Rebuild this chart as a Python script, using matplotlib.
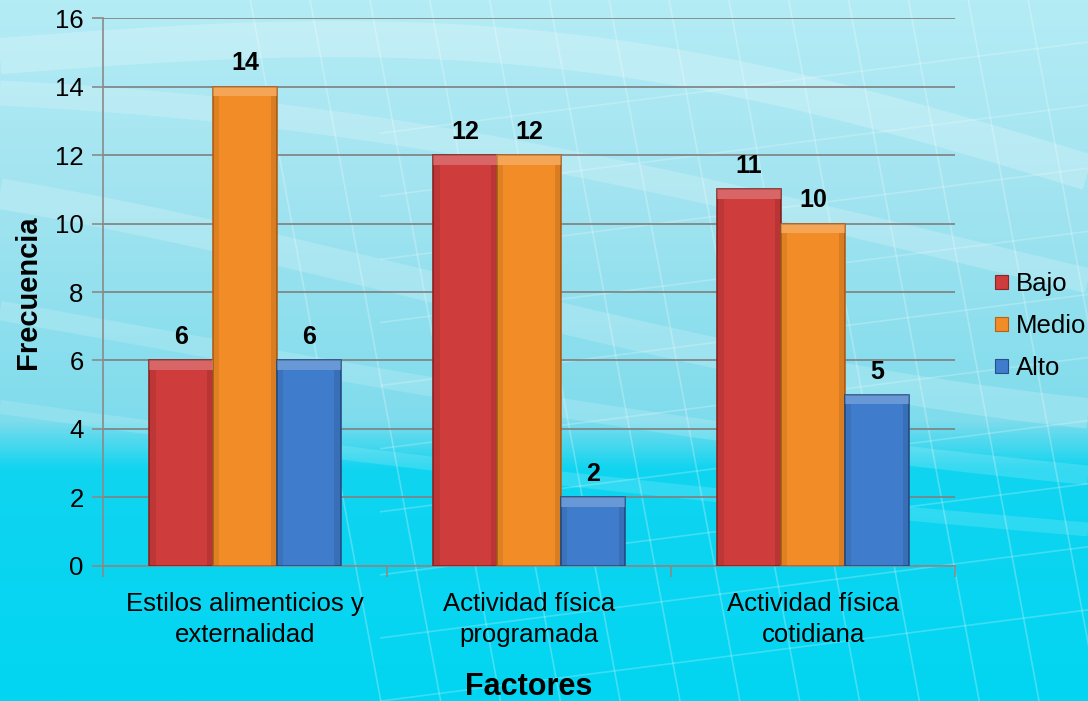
import numpy as np
import matplotlib
matplotlib.use("Agg")
import matplotlib.pyplot as plt
from matplotlib.patches import Rectangle
from matplotlib.colors import LinearSegmentedColormap

plt.rcParams['font.family'] = ['Liberation Sans', 'DejaVu Sans']

categories = ["Estilos alimenticios y\nexternalidad",
              "Actividad física\nprogramada",
              "Actividad física\ncotidiana"]
series_names = ["Bajo", "Medio", "Alto"]
bajo = [6, 12, 11]
medio = [14, 12, 10]
alto = [6, 2, 5]
yticks = [0, 2, 4, 6, 8, 10, 12, 14, 16]

colors = ["#cf3c3c", "#f28c26", "#3f7ccc"]
edge_colors = ["#8e2424", "#b4621a", "#27508a"]

fig = plt.figure(figsize=(10.88, 7.01), dpi=100)

# background: pale cyan at the top fading into vivid cyan below
bg = fig.add_axes([0, 0, 1, 1], zorder=-10)
bg.set_axis_off()
cmap = LinearSegmentedColormap.from_list(
    "sky", [(0.0, "#02d6f2"), (0.33, "#10d4f0"), (0.40, "#7fdcec"),
            (0.7, "#a0e3f0"), (1.0, "#b4ecf5")])
grad = np.linspace(0, 1, 400).reshape(-1, 1)
bg.imshow(grad, aspect="auto", cmap=cmap, origin="lower", extent=[0, 1, 0, 1])
# soft light swirls across the backdrop
xs = np.linspace(0, 1, 300)
for k, (a, b, c, w, al) in enumerate([
        (0.92, 0.10, 3.0, 26, 0.22), (0.80, 0.08, 2.4, 18, 0.20),
        (0.66, 0.07, 2.8, 22, 0.18), (0.55, 0.05, 2.0, 14, 0.16),
        (0.45, 0.04, 1.6, 10, 0.14)]):
    bg.plot(xs, a - 0.18 * xs + b * np.sin(c * xs + k), color="white",
            lw=w, alpha=al, solid_capstyle="butt")
for k in range(14):
    x0 = 0.35 + k * 0.055
    bg.plot([x0, x0 - 0.12], [0.0, 1.0], color="white", lw=1.2, alpha=0.25)
for k in range(10):
    y0 = 0.05 + k * 0.09
    bg.plot([0.35, 1.0], [y0 - 0.05, y0 + 0.08], color="white", lw=1.2, alpha=0.22)
bg.set_xlim(0, 1)
bg.set_ylim(0, 1)

ax = fig.add_axes([0.0947, 0.1926, 0.7831, 0.7817])
ax.patch.set_alpha(0)

x = np.arange(len(categories))
width = 0.225
offsets = [-width, 0, width]
for vals, name, c, ec, off in zip([bajo, medio, alto], series_names,
                                   colors, edge_colors, offsets):
    ax.bar(x + off, vals, width, color=c, edgecolor=ec, linewidth=1.2,
           label=name, zorder=3)
    for xi, v in zip(x + off, vals):
        # bevel highlight along the top and darker side strips
        ax.add_patch(Rectangle((xi - width / 2, v - 0.28), width, 0.28,
                               facecolor="white", alpha=0.22, lw=0, zorder=4))
        ax.add_patch(Rectangle((xi - width / 2, 0), width * 0.1, v - 0.28,
                               facecolor="black", alpha=0.08, lw=0, zorder=4))
        ax.add_patch(Rectangle((xi + width / 2 - width * 0.1, 0), width * 0.1, v - 0.28,
                               facecolor="black", alpha=0.10, lw=0, zorder=4))
        ax.annotate(f"{v}", (xi, v), xytext=(0, 8), textcoords="offset points",
                    ha="center", va="bottom", fontsize=18, fontweight="bold",
                    zorder=5)

ax.set_xlim(-0.5, 2.5)
ax.set_ylim(0, 16)
ax.set_yticks(yticks)
ax.yaxis.grid(True, color="#7f7f7f", linewidth=1.2, zorder=0)
ax.set_axisbelow(True)
ax.set_xticks([-0.5, 0.5, 1.5, 2.5])
ax.set_xticklabels([])
ax.set_xticks(x, minor=True)
ax.set_xticklabels(categories, minor=True, fontsize=18.5, linespacing=1.35)
ax.tick_params(axis="x", which="minor", length=0, pad=19)
ax.tick_params(axis="x", which="major", length=8, color="#8a8a8a", width=1.2)
ax.tick_params(axis="y", length=8, color="#8a8a8a", width=1.2, labelsize=18.5, pad=6)
for side in ["top", "right"]:
    ax.spines[side].set_visible(False)
for side in ["left", "bottom"]:
    ax.spines[side].set_color("#8a8a8a")
    ax.spines[side].set_linewidth(1.2)

ax.set_ylabel("Frecuencia", fontsize=21, fontweight="bold", labelpad=9)
ax.set_xlabel("Factores", fontsize=22, fontweight="bold", labelpad=18)

handles = [Rectangle((0, 0), 1, 1, facecolor=c, edgecolor=ec, lw=0.8)
           for c, ec in zip(colors, edge_colors)]
fig.legend(handles, series_names, loc="center left",
           bbox_to_anchor=(0.905, 0.535), frameon=False, fontsize=18.5,
           handlelength=0.5, handleheight=0.5, handletextpad=0.3,
           labelspacing=0.7, borderaxespad=0)

fig.savefig("out.png", dpi=100)
